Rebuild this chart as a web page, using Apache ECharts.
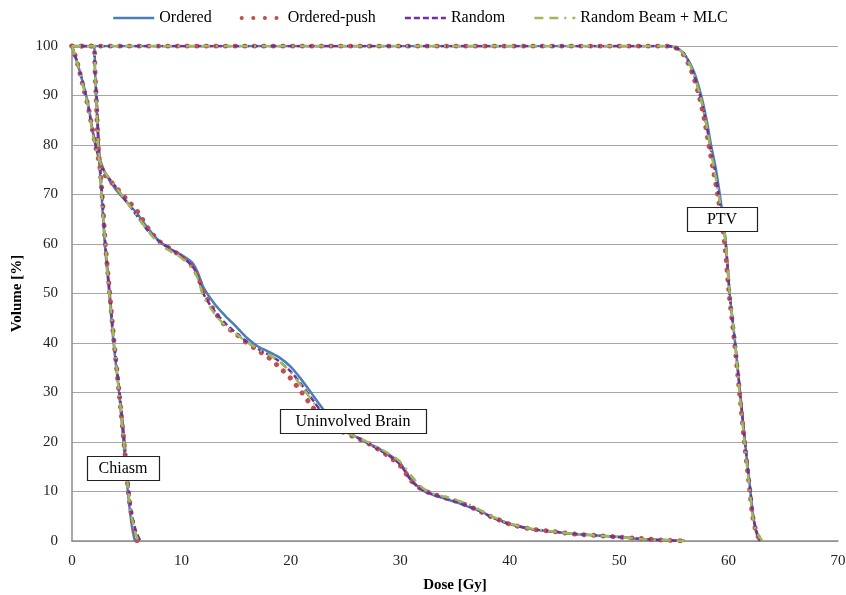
<!DOCTYPE html>
<html>
<head>
<meta charset="utf-8">
<script src="https://cdn.jsdelivr.net/npm/echarts@6/dist/echarts.min.js"></script>
<style>
  html, body { margin: 0; padding: 0; background: #fff; }
  #chart { width: 846px; height: 595px; }
</style>
</head>
<body>
<div id="chart"></div>
<script>
// Dose-volume histograms for four planning methods.
const PLANS = ['Ordered', 'Ordered-push', 'Random', 'Random Beam + MLC'];

// Chiasm: dose [Gy] reached at each volume level [%]
const chiasmVolume  = [100, 100, 95, 90, 80, 70, 60, 50, 40, 30, 20, 10, 5, 2, 0];
const chiasmOrdered = [0, 2.0, 2.1, 2.2, 2.4, 2.7, 3.0, 3.4, 3.8, 4.3, 4.7, 5.1, 5.35, 5.55, 5.75];
const chiasmPush    = [0, 2.0, 2.1, 2.2, 2.4, 2.75, 3.05, 3.45, 3.85, 4.3, 4.75, 5.15, 5.45, 5.7, 5.95];
const chiasmRandom  = [0, 2.0, 2.1, 2.25, 2.45, 2.75, 3.05, 3.45, 3.85, 4.35, 4.8, 5.2, 5.5, 5.85, 6.25];
const chiasmRbMlc   = [0, 2.0, 2.1, 2.2, 2.4, 2.7, 3.05, 3.4, 3.85, 4.3, 4.75, 5.15, 5.45, 5.75, 6.05];

// Uninvolved brain: volume [%] at each dose level [Gy]
const brainDose    = [0, 0.5, 1, 1.5, 2, 2.5, 3, 4, 5, 6, 7, 8, 9, 10, 11, 11.5, 12, 13, 14, 15, 16, 17, 18, 19, 20, 21, 22, 23, 24, 25, 26, 27, 28, 29, 30, 31, 32, 33, 34, 35, 36, 37, 38, 39, 40, 42, 44, 46, 48, 50, 52, 54, 56];
const brainOrdered = [100, 96.5, 92.5, 88, 81.5, 77.5, 74.5, 71, 68.5, 66, 63, 60.5, 59, 57.8, 56.2, 54.2, 51.3, 48, 45.5, 43.3, 41, 39.3, 38.2, 37, 35.2, 32.5, 29.5, 26.5, 24, 22.3, 21, 19.8, 18.7, 17.4, 15.7, 12.4, 10.3, 9.3, 8.6, 7.9, 7.1, 6.3, 5.3, 4.3, 3.5, 2.4, 1.9, 1.4, 1.1, 0.8, 0.4, 0.2, 0];
const brainPush    = [100, 96.5, 92, 87.5, 81.5, 76.5, 74, 71.5, 69, 66.5, 63, 60.5, 59, 57.5, 55.5, 53.5, 50.5, 46.5, 43.5, 41.8, 40, 38.5, 37, 35, 32.8, 30, 27, 24.5, 22.8, 21.8, 20.8, 19.8, 18.5, 17, 15.2, 12.2, 10.4, 9.5, 8.8, 8.1, 7.3, 6.3, 5.2, 4.3, 3.4, 2.4, 1.9, 1.4, 1.1, 0.8, 0.5, 0.2, 0];
const brainRandom  = [100, 96.5, 92.5, 87.5, 81.5, 77, 74.5, 71.5, 68.5, 65.5, 62.5, 60.5, 59, 57.5, 55.5, 53.5, 50, 46.5, 44, 42, 40.2, 38.8, 37.6, 36.2, 34.2, 31.5, 28.5, 25.5, 23.5, 22, 21, 19.8, 18.5, 17.2, 15.4, 12.2, 10.3, 9.4, 8.7, 8, 7.2, 6.3, 5.2, 4.2, 3.4, 2.4, 1.9, 1.4, 1.1, 0.8, 0.4, 0.2, 0];
const brainRbMlc   = [100, 96.5, 92, 87.5, 81, 77, 74.5, 71.5, 68.5, 65.5, 62.5, 60, 58.5, 57.2, 55, 53, 49.5, 46, 43.5, 41.8, 40.2, 38.8, 37.6, 36.2, 34, 31.2, 28.2, 25.5, 23.4, 22, 21, 20, 18.8, 17.6, 16, 13.2, 10.8, 9.6, 9, 8.4, 7.6, 6.6, 5.4, 4.4, 3.5, 2.5, 1.9, 1.4, 1.1, 0.8, 0.4, 0.2, 0];

// PTV: dose [Gy] reached at each volume level [%]
const ptvVolume  = [100, 100, 99.8, 98.5, 95, 90, 85, 80, 75, 70, 65, 60, 50, 40, 30, 20, 10, 5, 2, 0];
const ptvOrdered = [0, 54.0, 55.0, 55.9, 56.8, 57.5, 58.0, 58.4, 58.85, 59.2, 59.5, 59.75, 60.1, 60.6, 61.05, 61.5, 62.0, 62.25, 62.5, 62.8];
const ptvPush    = [0, 54.0, 55.0, 55.8, 56.6, 57.3, 57.8, 58.2, 58.6, 59.0, 59.35, 59.65, 60.05, 60.55, 61.0, 61.45, 61.95, 62.2, 62.5, 62.9];
const ptvRandom  = [0, 54.0, 55.0, 55.9, 56.7, 57.4, 57.9, 58.3, 58.75, 59.1, 59.45, 59.75, 60.1, 60.6, 61.05, 61.5, 62.0, 62.25, 62.55, 62.9];
const ptvRbMlc   = [0, 54.0, 55.0, 55.85, 56.7, 57.4, 57.9, 58.3, 58.7, 59.1, 59.45, 59.75, 60.1, 60.6, 61.0, 61.45, 61.95, 62.2, 62.5, 63.1];

// Structure labels and the point (dose, volume) they sit on
const labelText   = ['PTV', 'Uninvolved Brain', 'Chiasm'];
const labelDose   = [59.4, 25.7, 4.7];
const labelVolume = [65, 24.2, 14.7];

const FONT = "'Liberation Serif', 'Times New Roman', serif";
const LABEL_BOX = { 'PTV': 70, 'Uninvolved Brain': 146, 'Chiasm': 72 };

const STYLES = {
  'Ordered':           { color: '#4a7ebb', width: 2.5, type: 'solid' },
  'Ordered-push':      { color: '#c0504d', width: 5, type: [0.1, 9.5], cap: 'round' },
  'Random':            { color: '#7030a0', width: 2.5, type: [6, 3] },
  'Random Beam + MLC': { color: '#9bbb59', width: 2.5, type: [9, 6, 9, 6, 2, 6] },
};
// legend swatches are a bit finer than the plotted lines
const LEGEND_LINES = {
  'Ordered':           { width: 2.5, type: 'solid' },
  'Ordered-push':      { width: 4, type: [0.1, 11.5], cap: 'round' },
  'Random':            { width: 2.5, type: [6, 3] },
  'Random Beam + MLC': { width: 2.5, type: [9, 6, 9, 6, 2, 6] },
};

const zipDoseVol = (dose, vol) => dose.map((d, i) => [d, vol[i]]);

const curves = {
  'Ordered': [
    zipDoseVol(chiasmOrdered, chiasmVolume),
    zipDoseVol(brainDose, brainOrdered),
    zipDoseVol(ptvOrdered, ptvVolume),
  ],
  'Ordered-push': [
    zipDoseVol(chiasmPush, chiasmVolume),
    zipDoseVol(brainDose, brainPush),
    zipDoseVol(ptvPush, ptvVolume),
  ],
  'Random': [
    zipDoseVol(chiasmRandom, chiasmVolume),
    zipDoseVol(brainDose, brainRandom),
    zipDoseVol(ptvRandom, ptvVolume),
  ],
  'Random Beam + MLC': [
    zipDoseVol(chiasmRbMlc, chiasmVolume),
    zipDoseVol(brainDose, brainRbMlc),
    zipDoseVol(ptvRbMlc, ptvVolume),
  ],
};

const series = [];
PLANS.forEach(name => {
  const s = STYLES[name];
  curves[name].forEach(data => {
    series.push({
      name,
      type: 'line',
      data,
      smooth: 0.3,
      symbol: 'none',
      color: s.color,
      lineStyle: { color: s.color, width: s.width, type: s.type, cap: s.cap || 'butt' },
      emphasis: { disabled: true },
    });
  });
});

const chart = echarts.init(document.getElementById('chart'), null, { renderer: 'canvas' });

chart.setOption({
  animation: false,
  backgroundColor: '#fff',
  textStyle: { fontFamily: FONT },
  grid: { left: 72, right: 8, top: 46, bottom: 54, containLabel: false, outerBoundsMode: 'none' },
  legend: {
    data: PLANS.map(name => ({
      name,
      lineStyle: { color: STYLES[name].color, cap: 'butt', ...LEGEND_LINES[name] },
    })),
    top: 10,
    left: 112,
    padding: 0,
    itemWidth: 41,
    itemHeight: 14,
    itemGap: 28,
    itemStyle: { opacity: 0 },
    textStyle: { fontFamily: FONT, fontSize: 16, color: '#000' },
  },
  xAxis: {
    type: 'value',
    min: 0, max: 70, interval: 10,
    name: 'Dose [Gy]',
    nameLocation: 'middle',
    nameGap: 37,
    nameTextStyle: { fontFamily: FONT, fontSize: 15, fontWeight: 'bold', color: '#000' },
    axisLine: { lineStyle: { color: '#8c8c8c', width: 1.5 } },
    axisTick: { show: false },
    axisLabel: { fontFamily: FONT, fontSize: 15, color: '#222', margin: 13 },
    splitLine: { show: false },
  },
  yAxis: {
    type: 'value',
    min: 0, max: 100, interval: 10,
    name: 'Volume [%]',
    nameLocation: 'middle',
    nameGap: 43,
    nameTextStyle: { fontFamily: FONT, fontSize: 15, fontWeight: 'bold', color: '#000' },
    axisLine: { show: true, lineStyle: { color: '#8c8c8c', width: 1.5 } },
    axisTick: { show: false },
    axisLabel: { fontFamily: FONT, fontSize: 15, color: '#222', margin: 14 },
    splitLine: { lineStyle: { color: '#a6a6a6', width: 1 } },
  },
  series,
});

// Boxed structure labels placed at data coordinates, drawn above the curves
const graphics = labelText.map((text, i) => {
  const [px, py] = chart.convertToPixel({ gridIndex: 0 }, [labelDose[i], labelVolume[i]]);
  const w = LABEL_BOX[text];
  const h = 24;
  return {
    type: 'group',
    x: Math.round(px), y: Math.round(py),
    children: [
      { type: 'rect', z: 100, shape: { x: -w / 2 + 0.5, y: -h / 2 + 0.5, width: w, height: h },
        style: { fill: '#fff', stroke: '#222', lineWidth: 1.2 } },
      { type: 'text', z: 101, x: 0, y: 1,
        style: { text, font: '16px ' + FONT, fill: '#000', align: 'center', verticalAlign: 'middle' } },
    ],
  };
});
chart.setOption({ graphic: graphics });
</script>
</body>
</html>
